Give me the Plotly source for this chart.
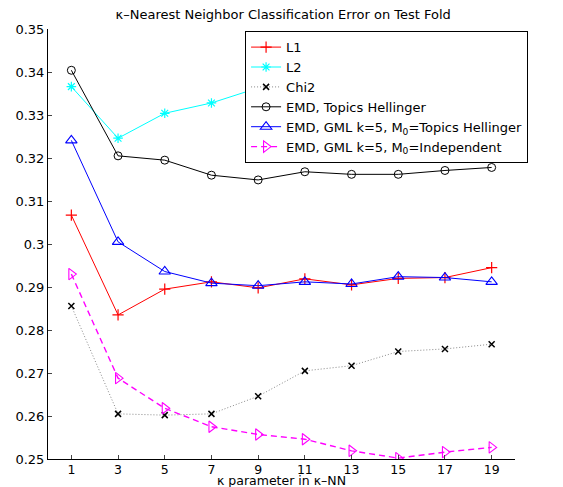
import plotly.graph_objects as go

k_values = [1, 3, 5, 7, 9, 11, 13, 15, 17, 19]
l1 = [0.3067, 0.2835, 0.2895, 0.2912, 0.2898, 0.2919, 0.2905, 0.2920, 0.2922, 0.2945]
l2 = [0.3366, 0.3246, 0.3304, 0.3328, 0.3363, 0.3375, 0.3382, 0.3390, 0.3395, 0.3400]
chi2 = [0.2856, 0.2605, 0.2602, 0.2605, 0.2646, 0.2705, 0.2717, 0.2750, 0.2756, 0.2767]
emd_hell = [0.3404, 0.3205, 0.3195, 0.3160, 0.3149, 0.3168, 0.3162, 0.3162, 0.3171, 0.3178]
gml_hell = [0.3241, 0.3005, 0.2936, 0.2909, 0.2903, 0.2912, 0.2907, 0.2924, 0.2922, 0.2912]
gml_ind = [0.2930, 0.2688, 0.2618, 0.2575, 0.2557, 0.2546, 0.2519, 0.2502, 0.2516, 0.2527]

x_ticks = [1, 3, 5, 7, 9, 11, 13, 15, 17, 19]
y_ticks = [0.25, 0.26, 0.27, 0.28, 0.29, 0.30, 0.31, 0.32, 0.33, 0.34, 0.35]
y_tick_text = ["0.25", "0.26", "0.27", "0.28", "0.29", "0.3", "0.31", "0.32", "0.33", "0.34", "0.35"]
x_title = "κ parameter in κ–NN"
chart_title = "κ–Nearest Neighbor Classification Error on Test Fold"

FONT = "DejaVu Sans"

fig = go.Figure()

def add(y, name, color, symbol, dash="solid", lcolor=None, lw=1, msize=9, mlw=1):
    fig.add_trace(go.Scatter(
        x=k_values, y=y, name=name, mode="lines+markers",
        line=dict(color=lcolor or color, width=lw, dash=dash),
        marker=dict(symbol=symbol, size=msize, color=color,
                    line=dict(color=color, width=mlw)),
    ))

add(l1, "L1", "#ff0000", "cross-thin", msize=8, mlw=1.2)
add(l2, "L2", "#00ffff", "asterisk-open", msize=8, mlw=1.2)
add(chi2, "Chi2", "#000000", "x-thin-open", dash="1px,2px", lcolor="#888888", msize=6, mlw=1.5)
add(emd_hell, "EMD, Topics Hellinger", "#000000", "circle-open", msize=8, mlw=1)
add(gml_hell, "EMD, GML k=5, M<sub>0</sub>=Topics Hellinger", "#0000ff", "triangle-up-open", msize=10, mlw=1.1)
add(gml_ind, "EMD, GML k=5, M<sub>0</sub>=Independent", "#ff00ff", "triangle-right-open", dash="6px,4px", lw=1.4, msize=10, mlw=1.1)

fig.update_layout(
    width=563, height=487,
    margin=dict(l=48, r=48, t=29, b=28),
    paper_bgcolor="white", plot_bgcolor="white",
    font=dict(family=FONT, size=13, color="#000000"),
    title=dict(text=chart_title, x=0.503, xanchor="center", y=0.971, yanchor="middle",
               font=dict(family=FONT, size=13)),
    xaxis=dict(range=[0, 20], tickvals=x_ticks, ticks="inside", ticklen=4,
               showline=True, linecolor="black", linewidth=1, showgrid=False,
               zeroline=False, tickfont=dict(family=FONT, size=12.5), automargin=False,
               ticklabelstandoff=-1),
    yaxis=dict(range=[0.25, 0.35], tickvals=y_ticks, ticktext=y_tick_text,
               ticks="inside", ticklen=4, showline=True, linecolor="black",
               linewidth=1, showgrid=False, zeroline=False,
               tickfont=dict(family=FONT, size=13), automargin=False),
    legend=dict(x=0.422, y=0.995, xanchor="left", yanchor="top",
                bgcolor="white", bordercolor="black", borderwidth=1,
                font=dict(family=FONT, size=13), tracegroupgap=0, itemwidth=30),
    annotations=[dict(text=x_title, xref="paper", yref="paper", x=0.5, y=-0.051,
                      xanchor="center", yanchor="middle", showarrow=False,
                      font=dict(family=FONT, size=12.5))],
    showlegend=True,
)

fig.write_html("out.html", config={"displayModeBar": False},
               post_script="document.body.style.margin='0';")
